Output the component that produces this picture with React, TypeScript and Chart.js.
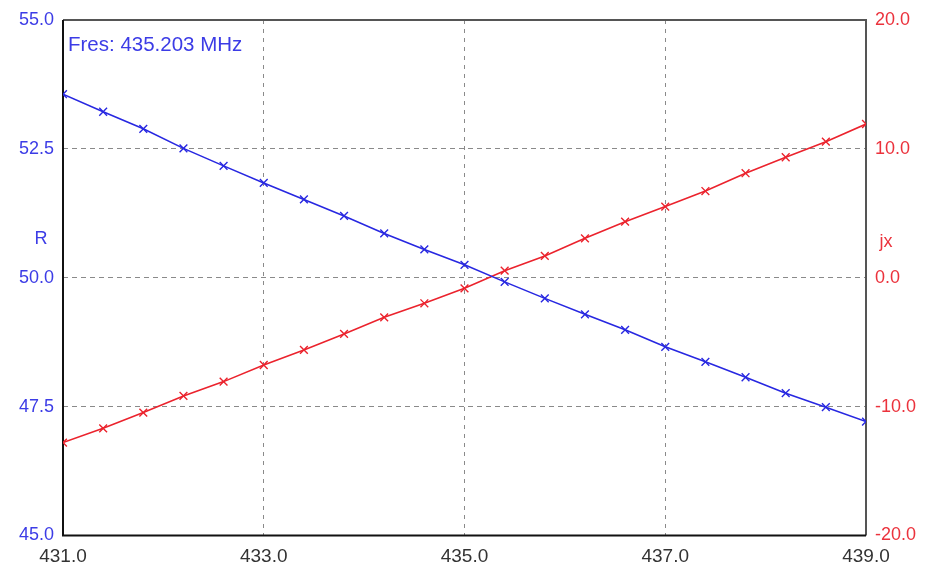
import React, { useEffect, useRef } from "react";
import { Chart, registerables } from "chart.js";

Chart.register(...registerables);

const freqs = [431.0, 431.4, 431.8, 432.2, 432.6, 433.0, 433.4, 433.8, 434.2, 434.6, 435.0, 435.4, 435.8, 436.2, 436.6, 437.0, 437.4, 437.8, 438.2, 438.6, 439.0];
const rValues = [53.56, 53.22, 52.89, 52.51, 52.17, 51.84, 51.52, 51.2, 50.86, 50.55, 50.25, 49.92, 49.6, 49.29, 48.99, 48.66, 48.37, 48.07, 47.76, 47.49, 47.21];
const jxValues = [-12.79, -11.68, -10.46, -9.17, -8.06, -6.77, -5.6, -4.36, -3.07, -1.98, -0.82, 0.55, 1.69, 3.06, 4.35, 5.52, 6.73, 8.11, 9.35, 10.56, 11.93];
const annotationText = "Fres: 435.203 MHz";
const leftTitle = "R";
const rightTitle = "jx";

const BLUE = "rgb(40,40,225)";
const BLUE_TXT = "rgb(60,60,230)";
const RED = "rgb(235,35,45)";
const RED_TXT = "rgb(235,50,60)";
const FONT = "'Liberation Sans', Arial, sans-serif";

const overlay = {
  id: "overlay",
  beforeDatasetsDraw(chart: any) {
    const { ctx, chartArea: a } = chart;
    ctx.save();
    ctx.lineWidth = 2;
    ctx.strokeStyle = "#555";
    ctx.beginPath();
    ctx.moveTo(a.left, a.top);
    ctx.lineTo(a.right, a.top);
    ctx.lineTo(a.right, a.bottom);
    ctx.stroke();
    ctx.strokeStyle = "#111";
    ctx.beginPath();
    ctx.moveTo(a.left, a.top);
    ctx.lineTo(a.left, a.bottom);
    ctx.lineTo(a.right, a.bottom);
    ctx.stroke();
    ctx.restore();
  },
  afterDraw(chart: any) {
    const { ctx, chartArea: a } = chart;
    const y = chart.scales.y;
    const y1 = chart.scales.y1;
    ctx.save();
    ctx.font = `20.5px ${FONT}`;
    ctx.textBaseline = "middle";
    ctx.textAlign = "left";
    ctx.fillStyle = BLUE_TXT;
    ctx.fillText(annotationText, a.left + 5, a.top + 25);
    ctx.font = `18px ${FONT}`;
    ctx.textAlign = "center";
    ctx.fillText(leftTitle, a.left - 22, y.getPixelForValue(50.75));
    ctx.fillStyle = RED_TXT;
    ctx.fillText(rightTitle, a.right + 20, y1.getPixelForValue(2.8));
    ctx.restore();
  },
};

export default function App() {
  const ref = useRef<HTMLCanvasElement | null>(null);
  useEffect(() => {
    if (!ref.current) return;
    const gridColor = (c: any) => {
      const s = c.scale;
      if (c.tick && (c.tick.value === s.min || c.tick.value === s.max)) return "rgba(0,0,0,0)";
      return "#8a8a8a";
    };
    const chart = new Chart(ref.current, {
      type: "line",
      data: {
        datasets: [
          {
            label: "R",
            data: freqs.map((f, i) => ({ x: f, y: rValues[i] })),
            borderColor: BLUE,
            backgroundColor: BLUE,
            borderWidth: 1.6,
            pointStyle: "crossRot",
            pointRadius: 5.5,
            pointBorderWidth: 1.4,
            pointBorderColor: BLUE,
            yAxisID: "y",
          },
          {
            label: "jx",
            data: freqs.map((f, i) => ({ x: f, y: jxValues[i] })),
            borderColor: RED,
            backgroundColor: RED,
            borderWidth: 1.6,
            pointStyle: "crossRot",
            pointRadius: 5.5,
            pointBorderWidth: 1.4,
            pointBorderColor: RED,
            yAxisID: "y1",
          },
        ],
      },
      options: {
        responsive: false,
        animation: false,
        layout: { padding: { top: 20, left: 0, right: 0, bottom: 0 } },
        plugins: { legend: { display: false }, tooltip: { enabled: false } },
        scales: {
          x: {
            type: "linear",
            min: 431,
            max: 439,
            ticks: {
              stepSize: 2,
              color: "#333",
              font: { family: FONT, size: 19 },
              padding: 10,
              callback: (v: any) => Number(v).toFixed(1),
            },
            grid: { color: gridColor, drawTicks: false, lineWidth: 1 },
            border: { display: false, dash: [4, 5] },
            afterFit: (s: any) => { s.height = 40.5; },
          },
          y: {
            type: "linear",
            position: "left",
            min: 45,
            max: 55,
            ticks: {
              stepSize: 2.5,
              color: BLUE_TXT,
              font: { family: FONT, size: 18 },
              padding: 9,
              callback: (v: any) => Number(v).toFixed(1),
            },
            grid: { color: gridColor, drawTicks: false, lineWidth: 1 },
            border: { display: false, dash: [5, 4] },
            afterFit: (s: any) => { s.width = 63; },
          },
          y1: {
            type: "linear",
            position: "right",
            min: -20,
            max: 20,
            ticks: {
              stepSize: 10,
              color: RED_TXT,
              font: { family: FONT, size: 18 },
              padding: 9,
              callback: (v: any) => Number(v).toFixed(1),
            },
            grid: { drawOnChartArea: false, drawTicks: false },
            border: { display: false },
            afterFit: (s: any) => { s.width = 61; },
          },
        },
      },
      plugins: [overlay],
    });
    return () => chart.destroy();
  }, []);
  return (
    <div style={{ position: "fixed", left: 0, top: 0, width: 927, height: 576, background: "#fff" }}>
      <canvas ref={ref} width={927} height={576} style={{ width: 927, height: 576 }} />
    </div>
  );
}
